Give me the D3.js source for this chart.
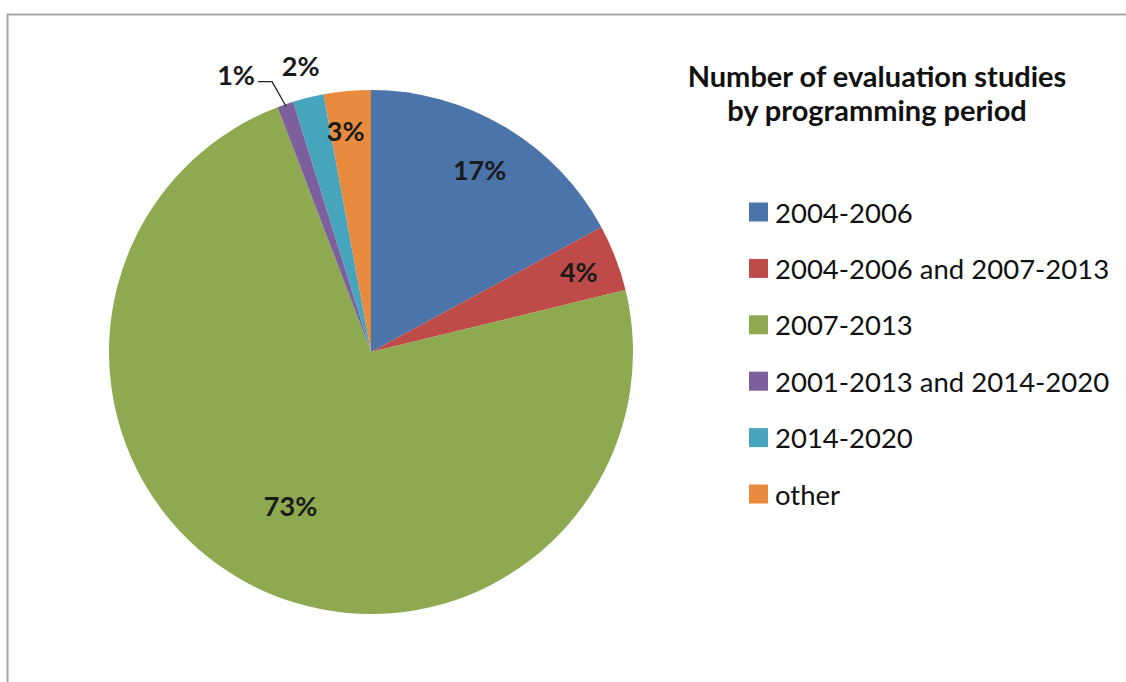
<!DOCTYPE html>
<html>
<head>
<meta charset="utf-8">
<script src="https://cdn.jsdelivr.net/npm/d3@7"></script>
<style>
    body { margin: 0; background: #fff; }
    svg { display: block; }
</style>
</head>
<body>
<div class="chart__container"></div>
<script>
/*---------------------------Init---------------------------*/

const CHART__WIDTH = 1126;
const CHART__HEIGHT = 682;

const CATEGORIES = ["2004-2006", "2004-2006 and 2007-2013", "2007-2013", "2001-2013 and 2014-2020", "2014-2020", "other"];
const SHARES = [17.1, 4.1, 73.0, 1.0, 1.9, 2.9];
const LABELS = ["17%", "4%", "73%", "1%", "2%", "3%"];
const TITLE_LINES = ["Number of evaluation studies", "by programming period"];
const COLORS = ["#4A74AA", "#BE4B48", "#8EAA50", "#7D5F9E", "#46A5BD", "#E88B3E"];

const PIE = { cx: 371, cy: 352, r: 262 };
const FONT = "Lato, 'Open Sans', sans-serif";

// where each label sits, as a fraction of the radius, plus a small nudge
const LABEL_RADIUS = [0.81, 0.85, 0.66, 1.12, 1.12, 0.85];
const LABEL_NUDGE = [[0, 0], [0, 0], [0, 0], [-39, 0], [0, -2], [-5, 0]];

/*---------------------------Draw---------------------------*/

const svg = d3.select(".chart__container").append("svg")
    .attr("width", CHART__WIDTH)
    .attr("height", CHART__HEIGHT);

//frame

svg.append("rect")
    .attr("x", 7.5)
    .attr("y", 14.5)
    .attr("width", 1300)
    .attr("height", 1000)
    .attr("fill", "none")
    .attr("stroke", "#a6a6a6")
    .attr("stroke-width", 2);

//pie

const data = CATEGORIES.map((c, i) => ({ name: c, value: SHARES[i], label: LABELS[i], color: COLORS[i] }));
const pie = d3.pie().sort(null).value(d => d.value);
const arcs = pie(data);
const arc = d3.arc().innerRadius(0).outerRadius(PIE.r);

const g = svg.append("g").attr("transform", `translate(${PIE.cx},${PIE.cy})`);

g.selectAll("path")
    .data(arcs)
    .enter()
    .append("path")
    .attr("d", arc)
    .attr("fill", d => d.data.color);

//labels

const labelPos = (d, i) => {
    const a = (d.startAngle + d.endAngle) / 2;
    const rr = PIE.r * LABEL_RADIUS[i];
    return [Math.sin(a) * rr + LABEL_NUDGE[i][0], -Math.cos(a) * rr + LABEL_NUDGE[i][1]];
};

g.selectAll(".lbl")
    .data(arcs)
    .enter()
    .append("text")
    .attr("class", "lbl")
    .attr("x", (d, i) => labelPos(d, i)[0])
    .attr("y", (d, i) => labelPos(d, i)[1])
    .attr("text-anchor", "middle")
    .attr("dominant-baseline", "central")
    .attr("font-family", FONT)
    .attr("font-weight", "bold")
    .attr("font-size", 27)
    .attr("fill", "#1a1a1a")
    .text(d => d.data.label);

//leader line for the 1% slice

const small = arcs[3];
const midA = (small.startAngle + small.endAngle) / 2;
const edge = [Math.sin(midA) * (PIE.r - 2), -Math.cos(midA) * (PIE.r - 2)];
const lp = labelPos(small, 3);
g.append("polyline")
    .attr("points", [[lp[0] + 22, lp[1] + 7], [lp[0] + 36, lp[1] + 7], edge].map(p => p.join(",")).join(" "))
    .attr("fill", "none")
    .attr("stroke", "#222")
    .attr("stroke-width", 1.3);

//title

svg.append("text")
    .attr("x", 877)
    .attr("y", 78)
    .attr("text-anchor", "middle")
    .attr("font-family", FONT)
    .attr("font-weight", "bold")
    .attr("font-size", 29)
    .attr("fill", "#111")
    .selectAll("tspan")
    .data(TITLE_LINES)
    .enter()
    .append("tspan")
    .attr("x", 877)
    .attr("dy", (d, i) => i === 0 ? 9 : 34)
    .text(d => d);

//legend

const legend = svg.append("g").attr("transform", "translate(749,212)");
const rowStep = 56.4;

const rows = legend.selectAll("g")
    .data(data)
    .enter()
    .append("g")
    .attr("transform", (d, i) => `translate(0,${i * rowStep})`);

rows.append("rect")
    .attr("x", 0)
    .attr("y", -9.5)
    .attr("width", 19)
    .attr("height", 19)
    .attr("fill", d => d.color);

rows.append("text")
    .attr("x", 26)
    .attr("y", 0)
    .attr("dominant-baseline", "central")
    .attr("font-family", FONT)
    .attr("font-size", 27.5)
    .attr("fill", "#111")
    .text(d => d.name);
</script>
</body>
</html>
